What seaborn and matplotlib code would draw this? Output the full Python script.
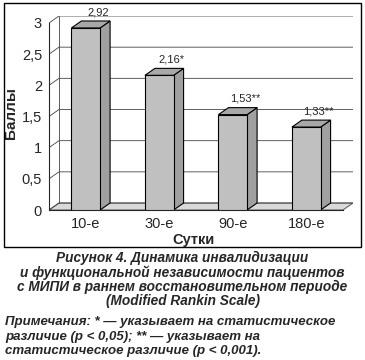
import matplotlib
matplotlib.use("Agg")
import matplotlib.pyplot as plt
import seaborn as sns
import pandas as pd
from matplotlib.patches import Polygon, Rectangle

# Данные
days = ["10-е", "30-е", "90-е", "180-е"]
scores = [2.92, 2.16, 1.53, 1.33]
labels = ["2,92", "2,16*", "1,53**", "1,33**"]
yticks = [0, 0.5, 1, 1.5, 2, 2.5, 3]
yticklabels = ["0", "0,5", "1", "1,5", "2", "2,5", "3"]

df = pd.DataFrame({"day": days, "score": scores})

sns.set_style("white")
plt.rcParams["font.family"] = ["Liberation Sans", "DejaVu Sans"]

fig = plt.figure(figsize=(3.65, 3.6), dpi=100)

# рамка вокруг диаграммы
fig.patches.append(Rectangle((4 / 365, (360 - 247) / 360), 357 / 365, 244 / 360,
                             transform=fig.transFigure, fill=False,
                             edgecolor="black", linewidth=1.0))

ax = fig.add_axes([49 / 365, (360 - 210) / 360, 304 / 365, 194 / 360])

dx, dy = 0.136, 0.112  # псевдо-3D глубина
x0, x1 = -0.5, 3.5

# пол
ax.add_patch(Polygon([(x0, 0), (x1, 0), (x1 + dx, dy), (x0 + dx, dy)],
                     closed=True, facecolor="#d9d9d9", edgecolor="#555555",
                     linewidth=0.7, zorder=0))
# задняя стенка: сетка
for t in yticks:
    ax.plot([x0, x0 + dx, x1 + dx], [t, t + dy, t + dy], color="#444444",
            linewidth=0.6, zorder=0.5)
ax.plot([x0 + dx, x0 + dx], [dy, 3 + dy], color="#444444", linewidth=0.6, zorder=0.5)
ax.plot([x1 + dx, x1 + dx], [dy, 3 + dy], color="#444444", linewidth=0.6, zorder=0.5)

sns.barplot(data=df, x="day", y="score", color="#c0c0c0", width=0.39,
            edgecolor="black", linewidth=0.8, saturation=1, ax=ax, zorder=3)

for bar, lab in zip(ax.patches[1:], labels):
    bx0 = bar.get_x()
    bx1 = bx0 + bar.get_width()
    h = bar.get_height()
    ax.add_patch(Polygon([(bx1, 0), (bx1, h), (bx1 + dx, h + dy), (bx1 + dx, dy)],
                         closed=True, facecolor="#a0a0a0", edgecolor="black",
                         linewidth=0.8, zorder=2.9))
    ax.add_patch(Polygon([(bx0, h), (bx1, h), (bx1 + dx, h + dy), (bx0 + dx, h + dy)],
                         closed=True, facecolor="#a8a8a8", edgecolor="black",
                         linewidth=0.8, zorder=2.9))
    ax.text((bx0 + bx1) / 2 + dx + 0.03, h + dy + 0.06, lab, ha="center",
            va="bottom", fontsize=8)

ax.set_xlim(x0, x1 + dx)
ax.set_ylim(0, 3 + dy)
ax.set_yticks(yticks)
ax.set_yticklabels(yticklabels, fontsize=10.5)
ax.set_xticks(range(4))
ax.set_xticklabels(days, fontsize=10.5)
ax.set_xticks([-0.5, 0.5, 1.5, 2.5, 3.5], minor=True)
ax.tick_params(axis="x", which="major", length=0, pad=5)
ax.tick_params(axis="x", which="minor", length=4, width=0.8, direction="out")
ax.tick_params(axis="y", length=4, width=0.8, direction="out", pad=1)
for s in ["top", "right"]:
    ax.spines[s].set_visible(False)
ax.spines["left"].set_bounds(0, 3)
ax.spines["bottom"].set_bounds(x0, x1)
ax.spines["left"].set_linewidth(0.8)
ax.spines["bottom"].set_linewidth(0.8)
ax.set_xlabel("Сутки", fontsize=10.5, fontweight="bold")
ax.set_ylabel("Баллы", fontsize=11, fontweight="bold", labelpad=3)
ax.xaxis.set_label_coords(0.475, -0.12)

caption = ["Рисунок 4. Динамика инвалидизации",
           "и функциональной независимости пациентов",
           "с МИПИ в раннем восстановительном периоде",
           "(Modified Rankin Scale)"]
for i, line in enumerate(caption):
    fig.text(0.5, 1 - (258 + 14.3 * i) / 360, line, ha="center", va="center",
             fontsize=9.8, fontweight="bold", fontstyle="italic")

notes = ["Примечания: * — указывает на статистическое",
         "различие (p < 0,05); ** — указывает на",
         "статистическое различие (p < 0,001)."]
for i, line in enumerate(notes):
    fig.text(5 / 365, 1 - (322 + 14.6 * i) / 360, line, ha="left", va="center",
             fontsize=9.5, fontweight="bold", fontstyle="italic")

fig.savefig("out.png", dpi=100)
